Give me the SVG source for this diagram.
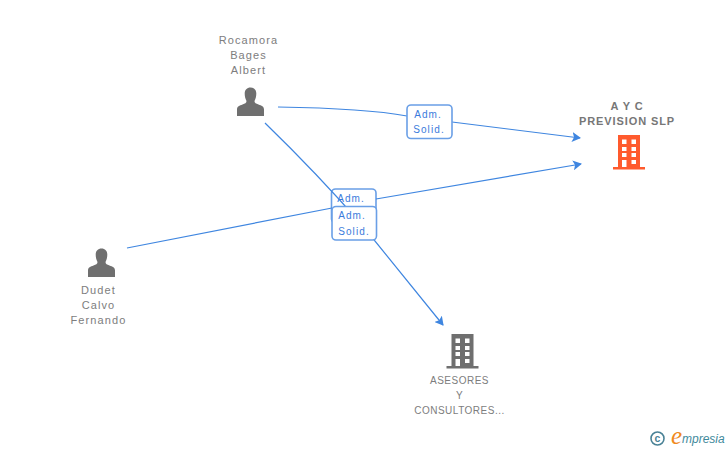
<svg xmlns="http://www.w3.org/2000/svg" width="728" height="450" viewBox="0 0 728 450">
<style>
.t{font-family:"Liberation Sans",Arial,sans-serif;font-size:11px;letter-spacing:1.1px;fill:#7d7d7d;text-anchor:middle}
.u{font-size:10px;letter-spacing:.5px}
.b{font-weight:bold;letter-spacing:.9px;fill:#777}
.c{fill:none;stroke:#3f86e0;stroke-width:1.2}
.l{fill:#fff;stroke:#6a9fe6;stroke-width:1.6}
.lt{font-family:"Liberation Sans",Arial,sans-serif;font-size:10px;letter-spacing:1.1px;fill:#3a7bdc;text-anchor:middle}
</style>
<defs>
<marker id="a" markerWidth="9" markerHeight="10" refX="8" refY="5" orient="auto" markerUnits="userSpaceOnUse"><path d="M0 0L9 5L0 10L2 5Z" fill="#3f86e0"/></marker>
<path id="p" d="M-13.500 20V13.500C-13.500 10.500-11 9.500-8 8.500C-5.500 7.500-4 7-4 5C-5.200 3-5.800 0-5.800-2.500C-5.800-6-3.500-8.500 0-8.500C3.500-8.500 5.800-6 5.800-2.500C5.800 0 5.200 3 4 5C4 7 5.500 7.500 8 8.500C11 9.500 13.500 10.500 13.500 13.500V20Z"/>
<path id="f" fill-rule="evenodd" d="M5 0H27V32H32V34.500H0V32H5ZM9 4.500V9H13.500V4.500ZM18.500 4.500V9H23V4.500ZM9 12V16H13.500V12ZM18.500 12V16H23V12ZM9 18V22H13.500V18ZM18.500 18V22H23V18ZM9 25V32H13.500V25ZM18.500 25V29H23V25Z"/>
</defs>
<g id="label-2"><rect class="l" x="331.500" y="189" width="44.500" height="34" rx="4"/><text class="lt" x="351" y="202">Adm.</text></g>
<g id="connectors">
<path class="c" d="M278 107C340 108 380 111 407 116M452 122L580 138" marker-end="url(#a)"/>
<path class="c" d="M265 123C300 157 335 194 362 225L443 325" marker-end="url(#a)"/>
<path class="c" d="M127 248L332 208M376 199L581 164" marker-end="url(#a)"/>
</g>
<g id="label-1"><rect class="l" x="407" y="105" width="45" height="33.500" rx="4"/><text class="lt" x="428" y="118">Adm.</text><text class="lt" x="429" y="133">Solid.</text></g>
<g id="label-3"><rect class="l" x="332" y="206.500" width="44.500" height="33.500" rx="4"/><text class="lt" x="352" y="219">Adm.</text><text class="lt" x="354" y="235">Solid.</text></g>
<g id="node-rocamora"><text class="t" x="248.500" y="44">Rocamora</text><text class="t" x="248.500" y="59">Bages</text><text class="t" x="248.500" y="74">Albert</text><use href="#p" x="250.500" y="96" fill="#6f6f6f"/></g>
<g id="node-dudet"><use href="#p" x="101.500" y="257" fill="#6f6f6f"/><text class="t" x="98.500" y="294">Dudet</text><text class="t" x="98.500" y="309">Calvo</text><text class="t" x="98.500" y="324">Fernando</text></g>
<g id="node-ayc"><text class="t b" x="627" y="110">A Y C</text><text class="t b" x="627" y="125">PREVISION SLP</text><use href="#f" x="613" y="135" fill="#ff5a2d"/></g>
<g id="node-asesores"><use href="#f" x="446.500" y="334" fill="#6f6f6f"/><text class="t u" x="459.500" y="384">ASESORES</text><text class="t u" x="459.500" y="399">Y</text><text class="t u" x="459.500" y="414">CONSULTORES...</text></g>
<g id="logo"><circle cx="657.500" cy="438.500" r="6.500" fill="none" stroke="#4a8296" stroke-width="1.600"/><text x="657.500" y="442" font-family="Liberation Sans,sans-serif" font-size="10.500" font-weight="bold" fill="#4a8296" text-anchor="middle">c</text><text x="671" y="444" font-family="Liberation Serif,serif" font-size="25" font-style="italic" fill="#f08a1e">e</text><text x="682" y="443" font-family="Liberation Sans,sans-serif" font-size="12" font-style="italic" fill="#3f8a9c">mpresia</text></g>
</svg>
